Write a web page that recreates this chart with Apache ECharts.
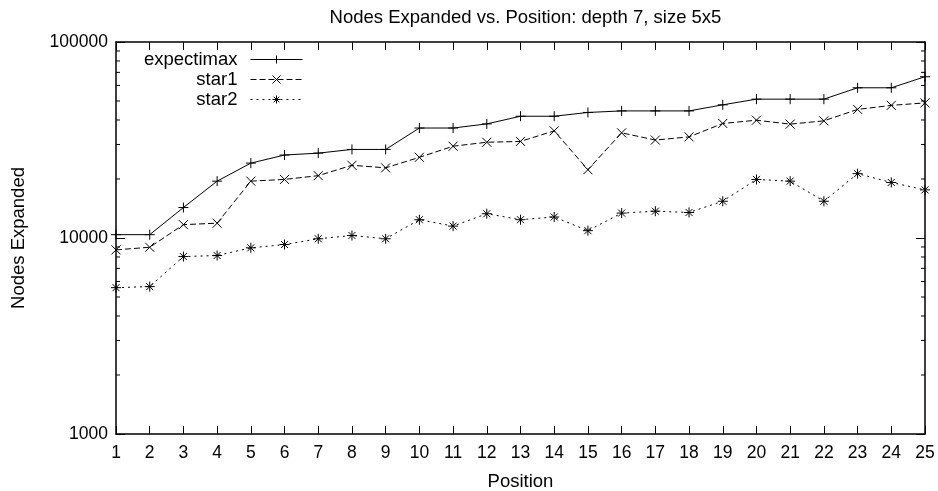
<!DOCTYPE html>
<html>
<head>
<meta charset="utf-8">
<script src="https://cdn.jsdelivr.net/npm/echarts@6/dist/echarts.min.js"></script>
<style>
html,body{margin:0;padding:0;background:#fff;}
#chart{width:938px;height:491px;}
</style>
</head>
<body>
<div id="chart"></div>
<script>
// ---- data ----
var positions = [1,2,3,4,5,6,7,8,9,10,11,12,13,14,15,16,17,18,19,20,21,22,23,24,25];
var expectimax = [10400,10400,14300,19500,24100,26500,27100,28300,28300,36400,36400,38200,41800,41800,43700,44500,44500,44500,47800,51100,51100,51100,58400,58400,66500];
var star1 = [8700,8970,11700,11900,19500,19900,20800,23500,22800,25800,29400,30800,31100,35200,22300,34400,31600,32800,38400,39900,38100,39600,45300,47500,48900];
var star2 = [5580,5650,8040,8140,8910,9260,9910,10300,9910,12400,11500,13300,12400,12800,10900,13400,13700,13500,15400,19900,19500,15400,21300,19200,17600];
var seriesNames = ['expectimax','star1','star2'];
var yMin = 1000, yMax = 100000;
var xMin = 1, xMax = 25;
var minorTickValues = [2000,3000,4000,5000,6000,7000,8000,9000,20000,30000,40000,50000,60000,70000,80000,90000];
var titleText = 'Nodes Expanded vs. Position: depth 7, size 5x5';
var xName = 'Position';
var yName = 'Nodes Expanded';

// ---- chart ----
var FONT = 'Liberation Sans, Arial, Helvetica, sans-serif';
var FS = 17.5;
var FS_BIG = 18.5;
var plusPath = 'path://M0,5L10,5M5,0L5,10';
var crossPath = 'path://M0,0L10,10M0,10L10,0';
var starPath = 'path://M0,5L10,5M5,0L5,10M1.5,1.5L8.5,8.5M1.5,8.5L8.5,1.5';

function pairs(vals){ return positions.map(function(p,i){ return [p, vals[i]]; }); }
function plain(v){ return String(Math.round(v)); }

var chart = echarts.init(document.getElementById('chart'), null, {renderer:'canvas'});
var axisLine = {show:true, lineStyle:{color:'#000', width:1.5}};
var option = {
  backgroundColor:'#fff',
  animation:false,
  title:{
    text:titleText, left:520.5, top:3, textAlign:'center',
    textStyle:{fontFamily:FONT, fontSize:FS_BIG, fontWeight:'normal', color:'#000'}
  },
  grid:{left:116, right:13, top:42, bottom:57, containLabel:false, outerBoundsMode:'none'},
  legend:{
    data:seriesNames,
    orient:'vertical', align:'right',
    right:635, top:50,
    padding:0, itemGap:1,
    itemWidth:52, itemHeight:10,
    lineStyle:{width:1},
    itemStyle:{borderWidth:1},
    textStyle:{fontFamily:FONT, fontSize:FS_BIG, color:'#000', padding:[0,8,0,0]},
    inactiveColor:'#000'
  },
  xAxis:[{
    type:'value', min:xMin, max:xMax, interval:1, position:'bottom',
    name:xName, nameLocation:'middle', nameGap:38,
    nameTextStyle:{fontFamily:FONT, fontSize:FS_BIG, color:'#000'},
    axisLine:axisLine,
    axisTick:{show:true, inside:true, length:8, lineStyle:{color:'#000', width:1}},
    axisLabel:{fontFamily:FONT, fontSize:FS, color:'#000', margin:10, formatter:plain},
    splitLine:{show:false}
  },{
    type:'value', min:xMin, max:xMax, interval:1, position:'top',
    axisLine:axisLine,
    axisTick:{show:true, inside:true, length:8, lineStyle:{color:'#000', width:1}},
    axisLabel:{show:false},
    splitLine:{show:false}
  }],
  yAxis:[{
    type:'log', logBase:10, min:yMin, max:yMax, position:'left',
    name:yName, nameLocation:'middle', nameGap:88, nameRotate:90,
    nameTextStyle:{fontFamily:FONT, fontSize:FS_BIG, color:'#000'},
    axisLine:axisLine,
    axisTick:{show:true, inside:true, length:9, lineStyle:{color:'#000', width:1}},
    axisLabel:{fontFamily:FONT, fontSize:FS, color:'#000', margin:8, formatter:plain},
    splitLine:{show:false}
  },{
    type:'log', logBase:10, min:yMin, max:yMax, position:'right',
    axisLine:axisLine,
    axisTick:{show:true, inside:true, length:9, lineStyle:{color:'#000', width:1}},
    axisLabel:{show:false},
    splitLine:{show:false}
  }],
  series:[
    {
      type:'custom', name:'minorTicks', silent:true, clip:false,
      xAxisIndex:0, yAxisIndex:0,
      data: minorTickValues.map(function(v){ return [xMin, v]; }),
      renderItem:function(params, api){
        var pl = api.coord([xMin, api.value(1)]);
        var pr = api.coord([xMax, api.value(1)]);
        return {type:'group', children:[
          {type:'line', shape:{x1:pl[0], y1:pl[1], x2:pl[0]+4, y2:pl[1]}, style:{stroke:'#000', lineWidth:1}},
          {type:'line', shape:{x1:pr[0]-4, y1:pr[1], x2:pr[0], y2:pr[1]}, style:{stroke:'#000', lineWidth:1}}
        ]};
      }
    },
    {
      name:'expectimax', type:'line', data:pairs(expectimax), clip:false,
      symbol:plusPath, symbolSize:10, showAllSymbol:true,
      lineStyle:{color:'#000', width:1, type:'solid'},
      itemStyle:{color:'#000', borderColor:'#000', borderWidth:1},
      emphasis:{disabled:true}
    },
    {
      name:'star1', type:'line', data:pairs(star1), clip:false,
      symbol:crossPath, symbolSize:9, showAllSymbol:true,
      lineStyle:{color:'#000', width:1, type:[6,3]},
      itemStyle:{color:'#000', borderColor:'#000', borderWidth:1},
      emphasis:{disabled:true}
    },
    {
      name:'star2', type:'line', data:pairs(star2), clip:false,
      symbol:starPath, symbolSize:10, showAllSymbol:true,
      lineStyle:{color:'#000', width:1, type:[2,4]},
      itemStyle:{color:'#000', borderColor:'#000', borderWidth:1},
      emphasis:{disabled:true}
    }
  ]
};
chart.setOption(option);
</script>
</body>
</html>
